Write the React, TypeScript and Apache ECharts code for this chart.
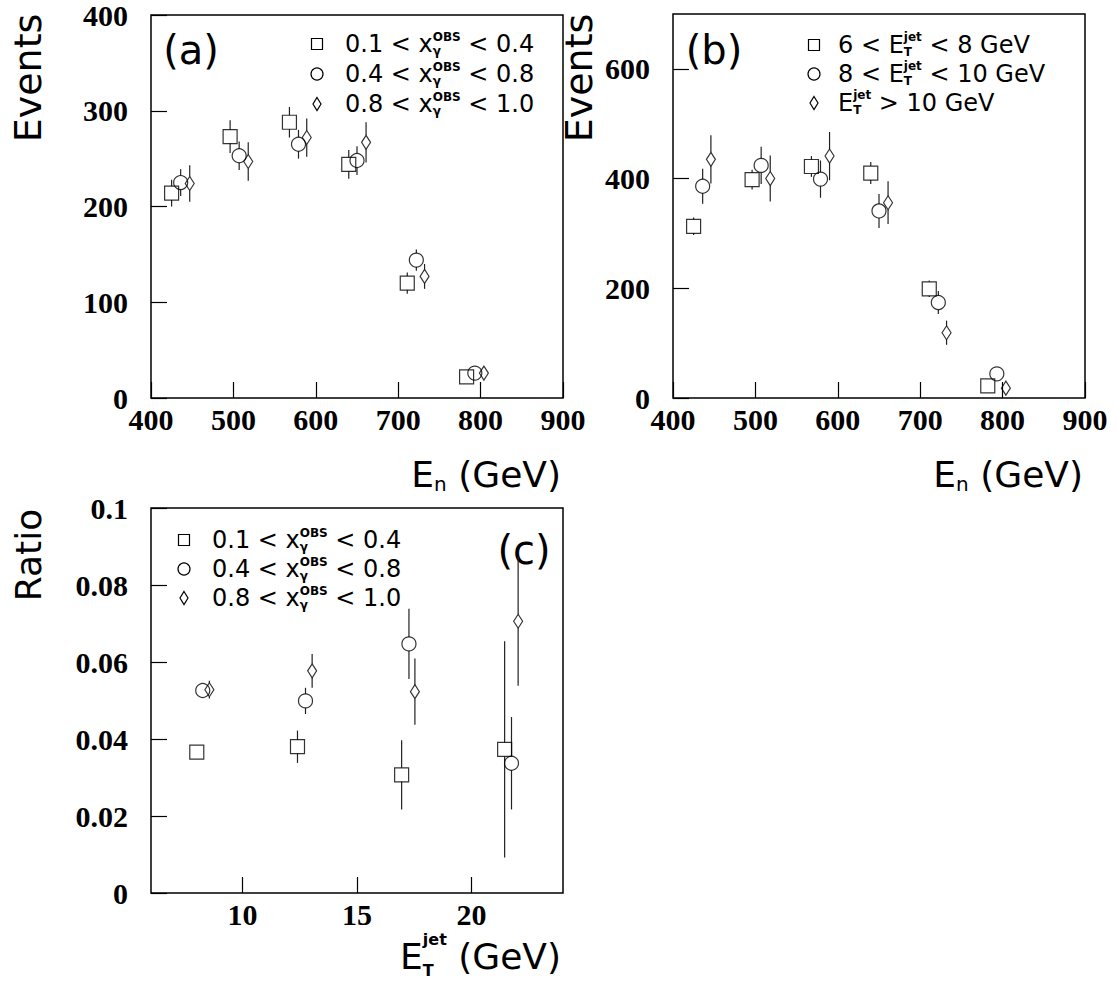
import React, { useEffect, useRef } from "react";
import * as echarts from "echarts";

// ---------- DATA ----------
// Panel (a): Events vs E_n, three x_gamma^OBS bins
const aX_sq = [425, 496, 568, 640, 711, 783];
const aY_sq = [214, 273, 288, 244, 120, 22];
const aE_sq = [14, 17, 16, 15, 11, 4];
const aX_ci = [436, 507, 579, 650, 722, 793];
const aY_ci = [225, 253, 265, 248, 144, 26];
const aE_ci = [14, 15, 15, 15, 11, 5];
const aX_di = [447, 518, 589, 661, 732, 804];
const aY_di = [224, 247, 272, 267, 127, 26];
const aE_di = [19, 20, 20, 21, 13, 5];

// Panel (b): Events vs E_n, three E_T^jet bins
const bX_sq = [425, 496, 568, 640, 711, 782];
const bY_sq = [313, 398, 422, 410, 199, 22];
const bE_sq = [16, 18, 19, 20, 15, 6];
const bX_ci = [436, 507, 579, 650, 722, 793];
const bY_ci = [386, 424, 399, 341, 174, 44];
const bE_ci = [32, 34, 34, 31, 21, 8];
const bX_di = [446, 518, 590, 661, 732, 804];
const bY_di = [435, 400, 441, 356, 119, 18];
const bE_di = [44, 42, 44, 39, 22, 6];

// Panel (c): Ratio vs E_T^jet, three x_gamma^OBS bins
const cX_sq = [8.0, 12.4, 16.95, 21.45];
const cY_sq = [0.0366, 0.038, 0.0307, 0.0373];
const cE_sq = [0.0012, 0.0042, 0.009, 0.0281];
const cX_ci = [8.26, 12.75, 17.27, 21.75];
const cY_ci = [0.0526, 0.0499, 0.0647, 0.0337];
const cE_ci = [0.0015, 0.0034, 0.0091, 0.012];
const cX_di = [8.55, 13.04, 17.53, 22.04];
const cY_di = [0.0528, 0.0577, 0.0523, 0.0706];
const cE_di = [0.0023, 0.0044, 0.0086, 0.0168];

// Tick values / labels
const cXTicks = [10, 15, 20];
const xgBins = [["0.1", "0.4"], ["0.4", "0.8"], ["0.8", "1.0"]];
const etBinsB = [["6 < E", " < 8 GeV"], ["8 < E", " < 10 GeV"], ["E", " > 10 GeV"]];
const panelTags = ["(a)", "(b)", "(c)"];

// ---------- STYLE ----------
const SANS = "'DejaVu Sans', sans-serif";
const SERIF = "'Liberation Serif', 'Times New Roman', serif";

let ctx: CanvasRenderingContext2D | null = null;
function measure(t: string, s: number, b?: boolean, fam: string = SANS) {
  if (!ctx) ctx = document.createElement("canvas").getContext("2d");
  if (!ctx) return t.length * s * 0.6;
  ctx.font = `${b ? "bold " : ""}${s}px ${fam}`;
  return ctx.measureText(t).width;
}

function txt(x: number, y: number, t: string, s: number, b?: boolean, extra: any = {}) {
  return {
    type: "text",
    x,
    y,
    silent: true,
    ...extra,
    style: {
      text: t,
      fontSize: s,
      fontFamily: SANS,
      fontWeight: b ? "bold" : "normal",
      fill: "#000",
      align: extra.align || "left",
      textAlign: extra.align || "left",
      verticalAlign: "middle",
      textVerticalAlign: "middle",
    },
  };
}

type Seg = { t?: string; sup?: string; sub?: string; s: number; b?: boolean; supDy?: number; subDy?: number };

function mathText(x: number, y: number, segs: Seg[], align: "left" | "right" = "left") {
  const widths = segs.map((g) =>
    g.t !== undefined
      ? measure(g.t, g.s, g.b)
      : Math.max(g.sup ? measure(g.sup, g.s, g.b) : 0, g.sub ? measure(g.sub, g.s, g.b) : 0)
  );
  const total = widths.reduce((a, b) => a + b, 0);
  let cx = align === "right" ? x - total : x;
  const out: any[] = [];
  segs.forEach((g, i) => {
    if (g.t !== undefined) {
      const trimmed = g.t.replace(/^\s+/, "");
      const lead = g.t.slice(0, g.t.length - trimmed.length);
      const off = lead ? measure(lead, g.s, g.b) : 0;
      out.push(txt(cx + off, y, trimmed, g.s, g.b));
    } else {
      if (g.sup) out.push(txt(cx, y + (g.supDy || 0), g.sup, g.s, g.b));
      if (g.sub) out.push(txt(cx, y + (g.subDy || 0), g.sub, g.s, g.b));
    }
    cx += widths[i];
  });
  return out;
}

function marker(kind: number, mx: number, my: number) {
  const st = { fill: "none", stroke: "#000", lineWidth: 1.2 };
  if (kind === 0) return { type: "rect", silent: true, shape: { x: mx - 5.5, y: my - 5.5, width: 11, height: 11 }, style: st };
  if (kind === 1) return { type: "circle", silent: true, shape: { cx: mx, cy: my, r: 6 }, style: st };
  return {
    type: "polygon",
    silent: true,
    shape: { points: [[mx, my - 6.5], [mx + 4, my], [mx, my + 6.5], [mx - 4, my]] },
    style: st,
  };
}

const errRender = (half: number) => (params: any, api: any) => {
  const x = api.value(0);
  const y = api.value(1);
  const e = api.value(2);
  const c = api.coord([x, y]);
  const t = api.coord([x, y + e]);
  const b = api.coord([x, y - e]);
  const st = { stroke: "#222", lineWidth: 1.2 };
  const ch: any[] = [];
  if (c[1] - half > t[1]) ch.push({ type: "line", shape: { x1: c[0], y1: t[1], x2: c[0], y2: c[1] - half }, style: st });
  if (b[1] > c[1] + half) ch.push({ type: "line", shape: { x1: c[0], y1: c[1] + half, x2: c[0], y2: b[1] }, style: st });
  return { type: "group", children: ch };
};

const symbols = ["rect", "circle", "diamond"];
const symbolSizes: any[] = [14, 14, [9, 14]];
const halves = [7, 7, 7];

function buildOption() {
  const panels = [
    { xs: [aX_sq, aX_ci, aX_di], ys: [aY_sq, aY_ci, aY_di], es: [aE_sq, aE_ci, aE_di] },
    { xs: [bX_sq, bX_ci, bX_di], ys: [bY_sq, bY_ci, bY_di], es: [bE_sq, bE_ci, bE_di] },
    { xs: [cX_sq, cX_ci, cX_di], ys: [cY_sq, cY_ci, cY_di], es: [cE_sq, cE_ci, cE_di] },
  ];

  const series: any[] = [];
  panels.forEach((p, gi) => {
    for (let k = 0; k < 3; k++) {
      const pts = p.xs[k].map((x, i) => [x, p.ys[k][i], p.es[k][i]]);
      series.push({
        type: "custom",
        xAxisIndex: gi,
        yAxisIndex: gi,
        coordinateSystem: "cartesian2d",
        renderItem: errRender(halves[k]),
        data: pts,
        encode: { x: 0, y: 1 },
        silent: true,
        clip: true,
      });
      series.push({
        type: "scatter",
        xAxisIndex: gi,
        yAxisIndex: gi,
        data: pts.map((d) => [d[0], d[1]]),
        symbol: symbols[k],
        symbolSize: symbolSizes[k],
        itemStyle: { color: "rgba(0,0,0,0)", borderColor: "#000", borderWidth: 1.2 },
        emphasis: { disabled: true },
        silent: true,
      });
    }
  });

  const tickStyle = { show: true, inside: true, length: 16, lineStyle: { color: "#000", width: 1.2 } };
  const xLab = { fontFamily: SERIF, fontWeight: "bold", fontSize: 30, color: "#000", margin: 6, showMinLabel: true, showMaxLabel: true };
  const yLab = { fontFamily: SERIF, fontWeight: "bold", fontSize: 30, color: "#000", margin: 23 };

  const grids = [
    { left: 151, top: 14, width: 412, height: 384 },
    { left: 673, top: 14, width: 412, height: 384 },
    { left: 151, top: 508, width: 412, height: 385 },
  ].map((g) => ({ ...g, show: true, borderColor: "#000", borderWidth: 1.5, backgroundColor: "transparent" }));

  const xAxis = [
    { gridIndex: 0, type: "value", min: 400, max: 900, interval: 100, axisLine: { show: false }, axisTick: tickStyle, axisLabel: xLab, splitLine: { show: false } },
    { gridIndex: 1, type: "value", min: 400, max: 900, interval: 100, axisLine: { show: false }, axisTick: tickStyle, axisLabel: xLab, splitLine: { show: false } },
    {
      gridIndex: 2, type: "value", min: 6, max: 24, axisLine: { show: false },
      axisTick: { ...tickStyle, customValues: cXTicks },
      axisLabel: { ...xLab, customValues: cXTicks },
      splitLine: { show: false },
    },
  ];
  const yAxis = [
    { gridIndex: 0, type: "value", min: 0, max: 400, interval: 100, axisLine: { show: false }, axisTick: tickStyle, axisLabel: yLab, splitLine: { show: false } },
    { gridIndex: 1, type: "value", min: 0, max: 700, interval: 200, axisLine: { show: false }, axisTick: tickStyle, axisLabel: { ...yLab, showMaxLabel: false }, splitLine: { show: false } },
    { gridIndex: 2, type: "value", min: 0, max: 0.1, interval: 0.02, axisLine: { show: false }, axisTick: tickStyle, axisLabel: yLab, splitLine: { show: false } },
  ];

  // ---------- graphic texts ----------
  const g: any[] = [];
  const LS = 24;
  // Legend (a)
  const rowsA = [44, 74, 104];
  rowsA.forEach((ry, k) => {
    g.push(marker(k, 317, ry));
    g.push(
      ...mathText(345, ry, [
        { t: `${xgBins[k][0]} < x`, s: LS },
        { sup: "OBS", sub: "γ", s: 12, b: true, supDy: -7, subDy: 7 },
        { t: ` < ${xgBins[k][1]}`, s: LS },
      ])
    );
  });
  // Legend (b)
  const rowsB = [45, 74, 103];
  rowsB.forEach((ry, k) => {
    g.push(marker(k, 814, ry));
    g.push(
      ...mathText(838, ry, [
        { t: etBinsB[k][0], s: LS },
        { sup: "jet", sub: "T", s: 12, b: true, supDy: -8, subDy: 7 },
        { t: etBinsB[k][1], s: LS },
      ])
    );
  });
  // Legend (c)
  const rowsC = [540, 569, 598];
  rowsC.forEach((ry, k) => {
    g.push(marker(k, 184, ry));
    g.push(
      ...mathText(212, ry, [
        { t: `${xgBins[k][0]} < x`, s: LS },
        { sup: "OBS", sub: "γ", s: 12, b: true, supDy: -7, subDy: 7 },
        { t: ` < ${xgBins[k][1]}`, s: LS },
      ])
    );
  });

  // Panel tags
  g.push(txt(191, 50, panelTags[0], 40, false, { align: "center" }));
  g.push(txt(714, 50, panelTags[1], 40, false, { align: "center" }));
  g.push(txt(524, 550, panelTags[2], 40, false, { align: "center" }));

  // Axis titles
  const TS = 36;
  g.push(...mathText(561, 474, [{ t: "E", s: TS }, { sub: "n", s: 20, subDy: 10 }, { t: " (GeV)", s: TS }], "right"));
  g.push(...mathText(1083, 474, [{ t: "E", s: TS }, { sub: "n", s: 20, subDy: 10 }, { t: " (GeV)", s: TS }], "right"));
  g.push(
    ...mathText(561, 956, [
      { t: "E", s: TS },
      { sup: "jet", sub: "T", s: 16, b: true, supDy: -17, subDy: 14 },
      { t: " (GeV)", s: TS },
    ], "right")
  );
  g.push(txt(28, 78, "Events", 38, false, { align: "center", rotation: Math.PI / 2 }));
  g.push(txt(579, 78, "Events", 38, false, { align: "center", rotation: Math.PI / 2 }));
  g.push(txt(28, 555, "Ratio", 36, false, { align: "center", rotation: Math.PI / 2 }));

  return {
    animation: false,
    backgroundColor: "#fff",
    grid: grids,
    xAxis,
    yAxis,
    series,
    graphic: { elements: g },
  };
}

export default function App() {
  const ref = useRef<HTMLDivElement>(null);
  useEffect(() => {
    if (!ref.current) return;
    const chart = echarts.init(ref.current, null, { renderer: "svg" });
    chart.setOption(buildOption() as any);
    return () => chart.dispose();
  }, []);
  return <div ref={ref} style={{ position: "absolute", left: 0, top: 0, width: 1116, height: 985 }} />;
}
